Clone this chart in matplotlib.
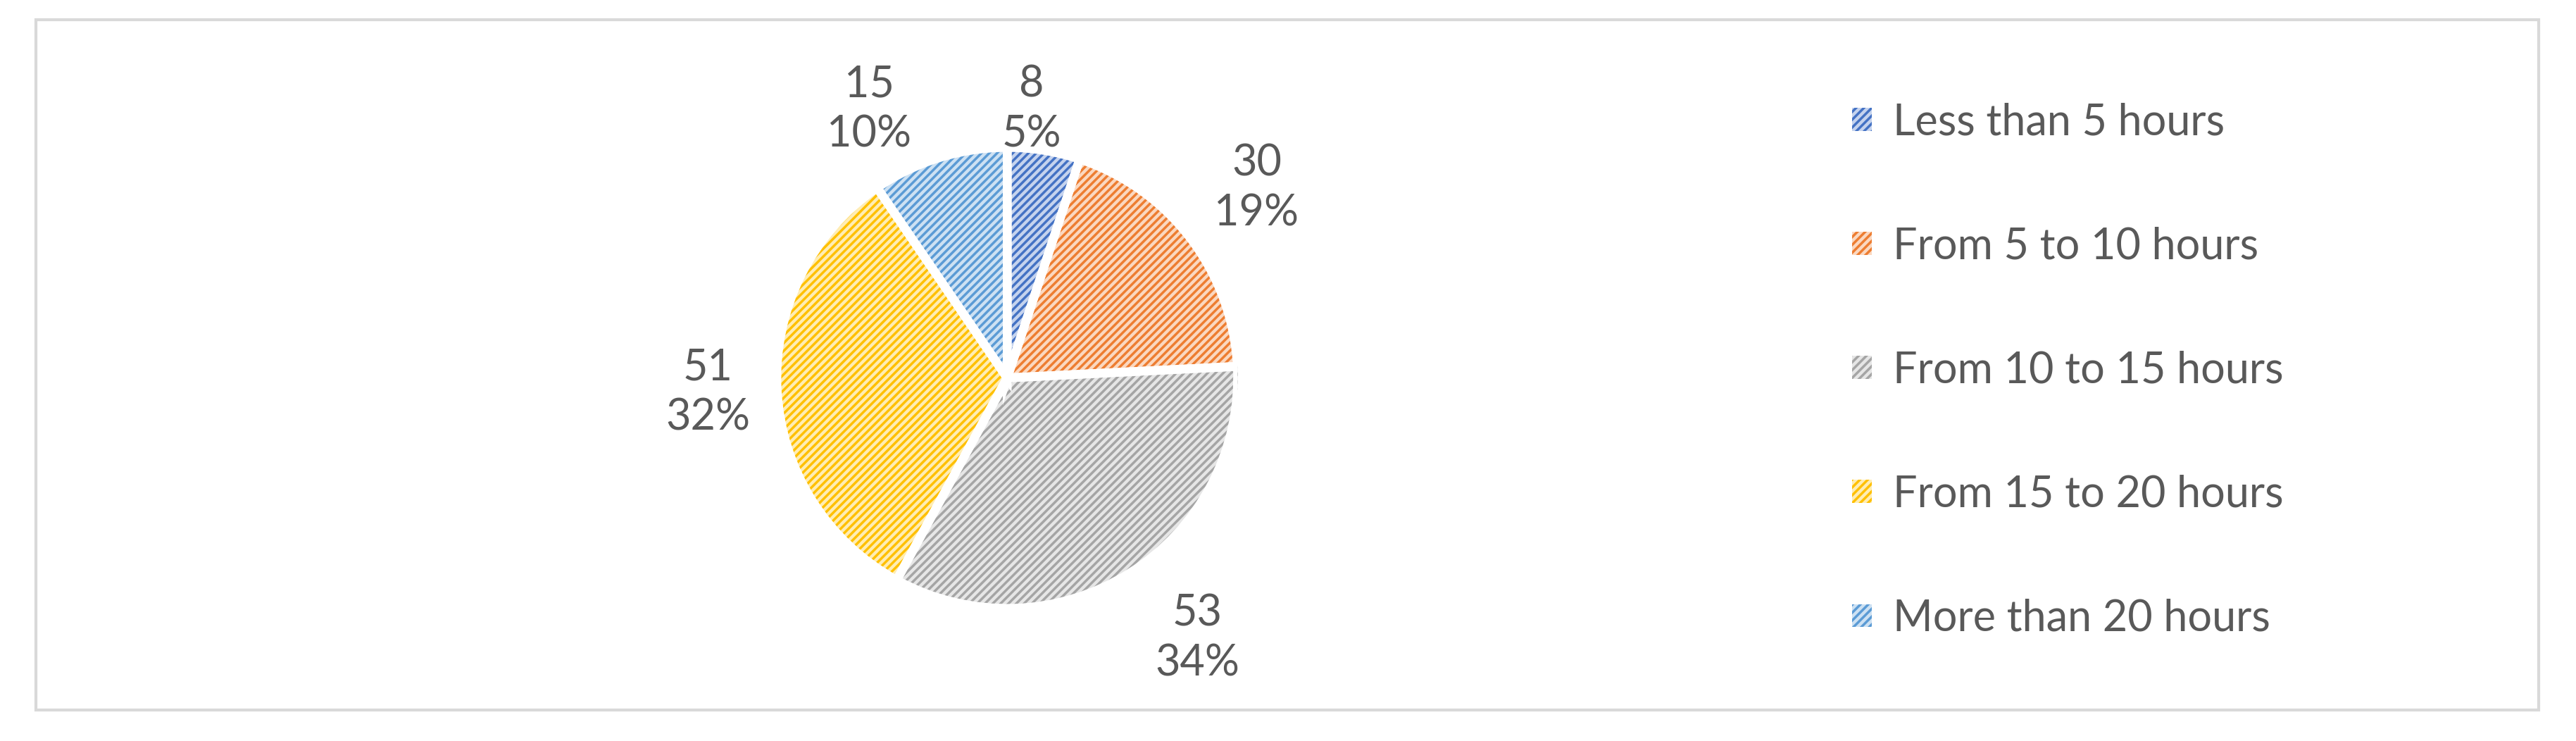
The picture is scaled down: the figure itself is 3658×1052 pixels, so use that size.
import numpy as np
import matplotlib.pyplot as plt
from matplotlib.patches import Patch, Rectangle, Wedge

plt.rcParams['font.family'] = ['Lato', 'DejaVu Sans']
plt.rcParams['hatch.linewidth'] = 2.5

categories = ["Less than 5 hours", "From 5 to 10 hours", "From 10 to 15 hours",
              "From 15 to 20 hours", "More than 20 hours"]
counts = [8, 30, 53, 51, 15]
percents = ["5%", "19%", "34%", "32%", "10%"]

edge_cols = ["#4472C4", "#ED7D31", "#A5A5A5", "#FFC000", "#5B9BD5"]
fill_cols = ["#C5D3EE", "#FBD8C0", "#E6E6E6", "#FFEDB3", "#CDE1F3"]
# label placement tweaks (angle offset deg, radial distance)
lab_off = [4, 0, 4, 0, 10]
lab_dist = [1.17, 1.36, 1.40, 1.30, 1.31]
txt = "#595959"

fig = plt.figure(figsize=(36.58, 10.52), dpi=100)
fig.patches.append(Rectangle((51 / 3658, 44 / 1052), 3554 / 3658, 980 / 1052,
                             transform=fig.transFigure, fill=False,
                             edgecolor="#D9D9D9", linewidth=3))

ax = fig.add_axes([0.391 - 0.0895, 0.49 - 0.311, 0.179, 0.622])
wedges, _ = ax.pie(counts, startangle=90, counterclock=False,
                   colors=fill_cols, wedgeprops=dict(linewidth=0))
for w, ec in zip(wedges, edge_cols):
    w.set_hatch("///")
    w.set_edgecolor(ec)
    w.set_linewidth(0)
    # white separating border drawn on top
    ax.add_patch(Wedge(w.center, w.r, w.theta1, w.theta2,
                       fill=False, edgecolor="white", linewidth=9))

for w, c, p, off, d in zip(wedges, counts, percents, lab_off, lab_dist):
    ang = np.deg2rad((w.theta1 + w.theta2) / 2 + off)
    ax.text(d * np.cos(ang), d * np.sin(ang), f"{c}\n{p}", ha="center", va="center",
            fontsize=44, color=txt, linespacing=1.3)
ax.set_xlim(-1, 1)
ax.set_ylim(-1, 1)
ax.set_aspect("equal")
ax.axis("off")

handles = [Patch(facecolor=f, edgecolor=e, hatch="///", linewidth=0)
           for f, e in zip(fill_cols, edge_cols)]
fig.legend(handles, categories, loc="center left", bbox_to_anchor=(0.704, 0.5),
           frameon=False, fontsize=44, labelcolor=txt, handlelength=0.45,
           handleheight=0.45, handletextpad=0.5, labelspacing=1.95)

fig.savefig("out.png", dpi=100)
